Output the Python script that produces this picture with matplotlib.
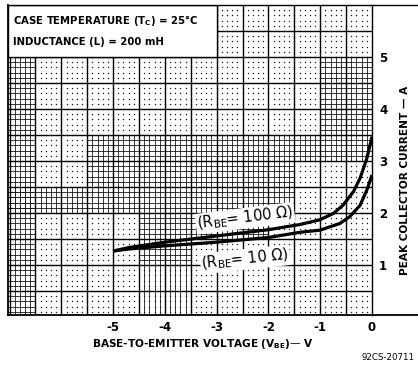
import numpy as np
import matplotlib
matplotlib.use("Agg")
import matplotlib.pyplot as plt
from matplotlib.patches import Rectangle
from matplotlib.lines import Line2D

# ---- data ----
vbe_100 = [-5.0, -4.68, -4.0, -3.0, -2.0, -1.39, -1.01, -0.75, -0.56, -0.36, -0.23, -0.10, 0.0]
ic_100 = [1.27, 1.34, 1.44, 1.56, 1.68, 1.78, 1.87, 1.99, 2.15, 2.41, 2.67, 3.05, 3.47]
vbe_10 = [-5.0, -4.68, -4.0, -3.0, -2.0, -1.39, -1.01, -0.62, -0.43, -0.23, -0.10, 0.0]
ic_10 = [1.27, 1.31, 1.37, 1.44, 1.53, 1.63, 1.67, 1.80, 1.93, 2.15, 2.44, 2.73]
x_ticks = [-5, -4, -3, -2, -1, 0]
x_ticklabels = ["-5", "-4", "-3", "-2", "-1", "0"]
y_ticks = [1, 2, 3, 4, 5]
y_ticklabels = ["1", "2", "3", "4", "5"]

plt.rcParams['font.family'] = ['DejaVu Sans']
plt.rcParams['mathtext.fontset'] = 'dejavusans'
W, H = 418, 365
fig = plt.figure(figsize=(W / 100, H / 100), dpi=100)
ax = fig.add_axes([8 / W, 50 / H, 364 / W, 310 / H])
XMIN, XMAX, YMIN, YMAX = -7.03, 0.0, 0.04, 6.0
ax.set_xlim(XMIN, XMAX)
ax.set_ylim(YMIN, YMAX)

# graph-paper texture: dots at minor intersections
mx = np.round(np.arange(-7.0, 0.001, 0.1), 2)
my = np.round(np.arange(0.1, 6.0, 0.1), 2)
GX, GY = np.meshgrid(mx, my)
ax.plot(GX.ravel(), GY.ravel(), ls='none', marker='o', ms=1.0, mew=0,
        color='#111111', zorder=1)

# dense fine-ruled areas (x0, x1, y0, y1, horizontal lines?)
dense = [
    (-7.03, -6.5, 0.04, 5.0, True),
    (-1.0, 0.0, 3.5, 5.0, True),
    (-5.5, 0.0, 3.0, 3.5, True),
    (-5.5, -1.5, 2.5, 3.0, True),
    (-7.03, -1.5, 2.0, 2.5, True),
    (-4.5, -2.0, 1.5, 2.0, True),
    (-4.5, -3.5, 1.0, 1.5, True),
    (-4.5, -3.5, 0.04, 1.0, False),
]
for x0, x1, y0, y1, hz in dense:
    xs = np.arange(np.ceil(x0 * 10) / 10, x1 + 1e-6, 0.1)
    ax.vlines(xs, y0, y1, color='#1a1a1a', lw=0.6, zorder=1.5)
    if hz:
        ys = np.arange(np.ceil(y0 * 10) / 10, y1 + 1e-6, 0.1)
        ax.hlines(ys, x0, x1, color='#1a1a1a', lw=0.6, zorder=1.5)

# major grid every 0.5
for gx in np.arange(-7.0, 0.0, 0.5):
    ax.axvline(gx, color='black', lw=1.0, zorder=2)
for gy in np.arange(0.5, 6.0, 0.5):
    ax.axhline(gy, color='black', lw=1.0, zorder=2)

# condition box
ax.add_patch(Rectangle((XMIN, 5.0), -3.0 - XMIN, YMAX - 5.0, facecolor='white',
                       edgecolor='black', lw=1.0, zorder=3))
ax.text(-6.93, 5.70, r"CASE TEMPERATURE (T$_{\mathregular{C}}$) = 25°C", fontsize=7.3,
        fontweight='bold', va='center', ha='left', zorder=4)
ax.text(-6.93, 5.28, "INDUCTANCE (L) = 200 mH", fontsize=7.3,
        fontweight='bold', va='center', ha='left', zorder=4)

# curves
ax.plot(vbe_100, ic_100, color='black', lw=2.3, zorder=5, solid_capstyle='butt')
ax.plot(vbe_10, ic_10, color='black', lw=2.3, zorder=5, solid_capstyle='butt')

bb = dict(facecolor='white', edgecolor='none', pad=0.8)
ax.text(-2.45, 1.90, r"(R$_{\mathregular{BE}}$= 100 Ω)", fontsize=10.5, rotation=7,
        ha='center', va='center', bbox=bb, zorder=4)
ax.text(-2.45, 1.11, r"(R$_{\mathregular{BE}}$= 10 Ω)", fontsize=10.5, rotation=6,
        ha='center', va='center', bbox=bb, zorder=4)

# axes / ticks
for s in ['top', 'right', 'bottom']:
    ax.spines[s].set_visible(False)
ax.spines['left'].set_linewidth(1.3)
ax.set_xticks(x_ticks)
ax.set_xticklabels(x_ticklabels, fontsize=8.5, fontweight='bold')
ax.set_yticks(y_ticks)
ax.set_yticklabels(y_ticklabels, fontsize=8.5, fontweight='bold')
ax.yaxis.tick_right()
ax.tick_params(axis='both', length=0)
ax.tick_params(axis='x', pad=4)
ax.tick_params(axis='y', pad=5)

# frame lines running to the right edge
fig.add_artist(Line2D([8 / W, 1.0], [50 / H, 50 / H], color='black', lw=1.3))
fig.add_artist(Line2D([8 / W, 1.0], [1 - 5 / H, 1 - 5 / H], color='black', lw=1.0))
fig.add_artist(Line2D([372 / W, 372 / W], [50 / H, 1 - 5 / H], color='black', lw=1.0))

fig.text(203 / W, 1 - 344 / H, r"BASE-TO-EMITTER VOLTAGE (V$_{\mathregular{BE}}$)— V",
         fontsize=7.6, fontweight='bold', ha='center', va='center')
fig.text(405 / W, 1 - 180 / H, "PEAK COLLECTOR CURRENT — A", fontsize=7.6,
         fontweight='bold', rotation=90, ha='center', va='center')
fig.text(415 / W, 1 - 358 / H, "92CS-20711", fontsize=6.2, ha='right', va='center')

fig.savefig("out.png", dpi=100)
